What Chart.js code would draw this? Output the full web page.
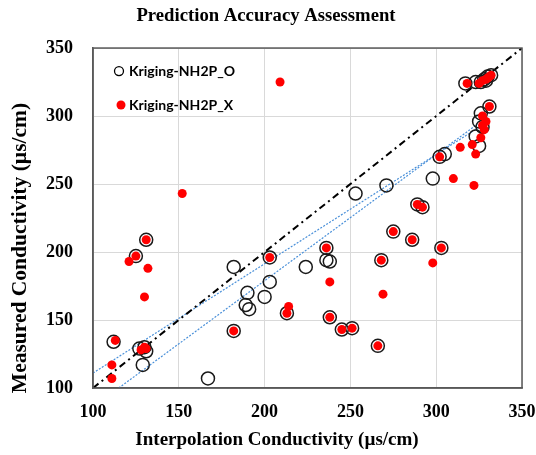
<!DOCTYPE html>
<html>
<head>
<meta charset="utf-8">
<script src="https://cdn.jsdelivr.net/npm/chart.js@4.4.1/dist/chart.umd.min.js"></script>
<style>
  body { margin: 0; background: #fff; }
  canvas { display: block; }
</style>
</head>
<body>
<canvas id="myChart" width="536" height="455"></canvas>
<script>
// Kriging-NH2P_O : interpolated vs measured
var oInterp   = [112,131,125,127,130,131,129,182,203,203,190,200,189,191,182,167,213,224,236,236,238,238,245,251,253,266,268,271,275,286,289,292,298,302,303,305,317,323,323,325,325,326,326,327,328,329,330,331,332];
var oMeasured = [134,209,197,129,130,127,117,189,196,178,170,167,161,158,142,107,155,189,203,194,193,152,143,144,243,131,194,249,215,209,235,233,254,270,203,272,324,285,325,278,296,302,325,292,327,326,329,307,330];

// Kriging-NH2P_X
var xInterp   = [113,131,125,121,132,130,128,130,131,111,111,152,182,203,209,213,214,236,238,238,245,251,266,268,269,275,286,289,292,298,302,303,310,314,318,321,322,323,325,326,327,327,327,328,329,329,330,331,331,332];
var xMeasured = [135,209,197,193,188,167,128,130,129,117,107,243,142,196,325,155,160,203,178,152,143,144,131,194,169,215,209,235,233,192,270,203,254,277,324,279,249,272,324,284,293,300,326,290,296,327,328,307,329,330];

// trend lines (end points) and the 1:1 line
var trendUpperX = [100,324];
var trendUpperY = [111,291];
var trendLowerX = [115,324];
var trendLowerY = [100,294];
var oneToOne = [100,350];

var axisMin = 100, axisMax = 350, axisStep = 50;

var title = "Prediction Accuracy Assessment";
var xTitle = "Interpolation Conductivity (\u00b5s/cm)";
var yTitle = "Measured Conductivity (\u00b5s/cm)";
var seriesNames = ["Kriging-NH2P_O", "Kriging-NH2P_X"];

function pts(xs, ys){
    return xs.map(function(x, i){ return {x: x, y: ys[i]}; });
}

var serif = "'Liberation Serif', 'Times New Roman', serif";

// frame, axis titles and the legend inside the plot
var extras = {
    id: "extras",
    afterDraw: function(chart){
        var ctx = chart.ctx, a = chart.chartArea;
        ctx.save();
        ctx.strokeStyle = "#595959";
        ctx.lineWidth = 1.5;
        ctx.strokeRect(a.left, a.top, a.right - a.left, a.bottom - a.top);

        ctx.fillStyle = "#000";
        ctx.font = "bold 19px " + serif;
        ctx.textAlign = "center";
        ctx.textBaseline = "middle";
        ctx.fillText(xTitle, 277, 440);

        ctx.font = "bold 21.5px " + serif;
        ctx.translate(20, 248);
        ctx.rotate(-Math.PI / 2);
        ctx.fillText(yTitle, 0, 0);
        ctx.restore();

        ctx.save();
        ctx.font = "bold 14px Lato, 'Open Sans', sans-serif";
        ctx.textAlign = "left";
        ctx.textBaseline = "middle";
        ctx.fillStyle = "#000";
        ctx.beginPath();
        ctx.arc(a.left + 26, a.top + 23, 4.5, 0, Math.PI * 2);
        ctx.lineWidth = 1.3;
        ctx.strokeStyle = "#000";
        ctx.stroke();
        ctx.fillText(seriesNames[0], a.left + 36, a.top + 23);
        ctx.beginPath();
        ctx.arc(a.left + 28, a.top + 57, 4.5, 0, Math.PI * 2);
        ctx.fillStyle = "#ff0000";
        ctx.fill();
        ctx.fillStyle = "#000";
        ctx.fillText(seriesNames[1], a.left + 36, a.top + 57);
        ctx.restore();
    }
};

var chart = new Chart(document.getElementById("myChart").getContext("2d"), {
    type: "scatter",
    data: {
        datasets: [
            {
                label: seriesNames[1],
                data: pts(xInterp, xMeasured),
                pointRadius: 4.5,
                pointHoverRadius: 4.5,
                pointBackgroundColor: "#ff0000",
                pointBorderWidth: 0,
                order: 0
            },
            {
                label: seriesNames[0],
                data: pts(oInterp, oMeasured),
                pointRadius: 6.5,
                pointHoverRadius: 6.5,
                pointBackgroundColor: "rgba(0,0,0,0)",
                pointBorderColor: "#1a1a1a",
                pointBorderWidth: 1.5,
                order: 1
            },
            {
                type: "line",
                label: "1:1",
                data: pts(oneToOne, oneToOne),
                borderColor: "#000",
                borderWidth: 2,
                borderDash: [7, 4, 2, 4],
                pointRadius: 0,
                fill: false,
                order: 2
            },
            {
                type: "line",
                label: "trend upper",
                data: pts(trendUpperX, trendUpperY),
                borderColor: "#4a90d9",
                borderWidth: 1.2,
                borderDash: [2, 1.5],
                pointRadius: 0,
                fill: false,
                order: 3
            },
            {
                type: "line",
                label: "trend lower",
                data: pts(trendLowerX, trendLowerY),
                borderColor: "#4a90d9",
                borderWidth: 1.2,
                borderDash: [2, 1.5],
                pointRadius: 0,
                fill: false,
                order: 3
            }
        ]
    },
    options: {
        responsive: false,
        animation: false,
        layout: { padding: { left: 10, right: 14, top: 0, bottom: 0 } },
        plugins: {
            legend: { display: false },
            tooltip: { enabled: false },
            title: {
                display: true,
                text: title,
                color: "#000",
                font: { family: serif, size: 18.7, weight: "bold" },
                padding: { top: 5, bottom: 20.6 }
            }
        },
        scales: {
            x: {
                type: "linear",
                min: axisMin, max: axisMax,
                afterFit: function(s){
                    s.height = 67;
                    s.paddingLeft = 0;
                    s.paddingRight = 0;
                },
                ticks: {
                    stepSize: axisStep,
                    padding: 14,
                    color: "#000",
                    font: { family: serif, size: 18, weight: "bold" }
                },
                grid: { color: "#d9d9d9", lineWidth: 1, drawTicks: false },
                border: { color: "#595959", width: 1.5 }
            },
            y: {
                type: "linear",
                min: axisMin, max: axisMax,
                afterFit: function(s){ s.width = 83; },
                ticks: {
                    stepSize: axisStep,
                    padding: 20,
                    color: "#000",
                    font: { family: serif, size: 18, weight: "bold" }
                },
                grid: { color: "#d9d9d9", lineWidth: 1, drawTicks: false },
                border: { color: "#595959", width: 1.5 }
            }
        }
    },
    plugins: [extras]
});
</script>
</body>
</html>
